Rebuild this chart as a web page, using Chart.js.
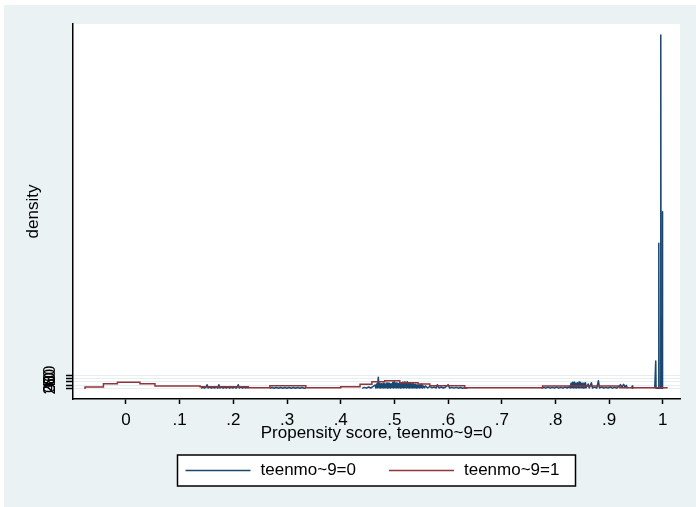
<!DOCTYPE html>
<html>
<head>
<meta charset="utf-8">
<script src="https://cdn.jsdelivr.net/npm/chart.js@4.4.1/dist/chart.umd.min.js"></script>
<style>
  body { margin: 0; background: #fff; }
  canvas { display: block; }
</style>
</head>
<body>
<canvas id="psChart" width="696" height="507"></canvas>
<script>
// axis ticks
const xTicks = [0, 0.1, 0.2, 0.3, 0.4, 0.5, 0.6, 0.7, 0.8, 0.9, 1];
const xTickLabels = ["0", ".1", ".2", ".3", ".4", ".5", ".6", ".7", ".8", ".9", "1"];
const yTicks = [0, 20, 40, 60, 80];
const yTickLabels = ["0", "20", "40", "60", "80"];

const seriesLabels = ["teenmo~9=0", "teenmo~9=1"];

// teenmo~9=0 in pieces ([score, density])
const blueA = [[.140,0],[.143,7],[.146,1],[.149,6],[.151,22],[.153,2],[.156,7],[.159,1],[.162,6],[.165,2],[.168,7],[.171,1],[.173,22],[.175,2],[.178,7],[.181,1],[.184,6],[.187,2],[.190,7],[.193,1],[.196,6],[.199,2],[.202,7],[.205,1],[.207,6],[.209,22],[.211,2],[.214,7],[.217,1],[.220,6],[.223,2],[.226,7],[.228,0]];
const blueB = [[.268,0],[.272,5],[.276,1],[.280,5],[.284,1],[.288,5],[.292,1],[.296,5],[.300,1],[.304,5],[.308,1],[.312,5],[.316,1],[.320,5],[.324,1],[.328,5],[.332,1],[.335,0]];
const blueC = [[.440,0],[.444,6],[.448,1],[.452,8],[.456,2],[.460,10],
  [.464,20],[.4655,2],[.467,26],[.4685,3],[.470,66],[.4715,3],[.473,30],[.4745,2],[.476,28],[.4775,3],[.479,30],[.4805,2],[.482,26],[.4835,3],
  [.485,32],[.4865,2],[.488,34],[.4895,3],[.491,30],[.4925,2],[.494,28],[.4955,3],[.497,36],[.4985,2],[.500,40],[.5015,3],[.503,32],[.5045,2],
  [.506,30],[.5075,3],[.509,32],[.5105,2],[.512,34],[.5135,3],[.515,36],[.5165,2],[.518,38],[.5195,3],[.521,36],[.5225,2],[.524,40],[.5255,3],
  [.527,32],[.5285,2],[.530,30],[.5315,3],[.533,28],[.5345,2],[.536,26],[.5375,3],[.539,24],[.5405,2],[.542,22],[.5435,3],[.545,20],[.5465,2],
  [.548,22],[.5495,3],[.551,26],[.5525,2],[.554,14],[.556,3],
  [.558,14],[.562,2],[.566,12],[.570,3],[.574,8],[.578,2],[.580,22],[.583,2],[.587,8],[.591,2],[.595,6],[.600,22],[.603,1],[.607,6],[.611,1],
  [.615,6],[.619,1],[.623,5],[.627,1],[.631,4],[.636,0]];
const blueD = [[.774,0],[.778,6],[.782,1],[.786,7],[.790,1],[.794,6],[.798,1],[.802,7],[.806,1],[.810,6],[.814,1],[.818,7],[.822,2],
  [.826,10],[.8275,2],[.829,30],[.8305,3],[.832,36],[.8335,2],[.835,38],[.8365,3],[.838,32],[.8395,2],[.841,34],[.8425,3],[.844,38],[.8455,2],
  [.847,34],[.8485,3],[.850,30],[.8515,2],[.853,32],[.8545,3],[.856,34],[.857,3],
  [.861,26],[.863,2],[.867,34],[.869,2],[.873,7],[.877,1],[.880,46],[.882,2],[.886,7],[.890,1],[.894,6],[.898,1],[.902,7],[.906,1],[.910,6],
  [.914,1],[.918,10],[.921,22],[.924,8],[.927,24],[.930,6],[.932,18],[.934,0]];
const blueE = [[.942,0],[.943,14],[.944,0]];
const blueSpikes = [[.985,0],[.9868,164],[.9874,0],[.9915,0],[.9925,870],[.9931,0],[.9955,0],[.9962,2120],[.9968,0],[.9985,0],[.9992,1060],[.9998,0],[1.0005,0]];

// teenmo~9=1, step levels (each level starts at redX)
const redX = [-0.078, -0.076, -0.042, -0.016, 0.026, 0.054, 0.138, 0.228, 0.268, 0.335, 0.40, 0.436, 0.458, 0.482, 0.51, 0.544, 0.566, 0.631, 0.776, 0.92, 1.009];
const redY = [2, 8, 28, 36, 28, 14, 10, 4, 16, 4, 10, 24, 40, 46, 34, 26, 16, 4, 14, 4, 4];

const navy = "#1a476f";
const maroon = "#90353b";
const fontFam = "'Liberation Sans', Arial, sans-serif";

// pieces joined with a null so the line breaks between them
let bluePoints = [];
[blueA, blueB, blueC, blueD, blueE, blueSpikes].forEach(function (part, i) {
  if (i > 0) bluePoints.push({ x: part[0][0] - 0.001, y: null });
  part.forEach(function (p) { bluePoints.push({ x: p[0], y: p[1] }); });
});
const redPoints = redX.map(function (x, i) { return { x: x, y: redY[i] }; });

const backdrop = {
  id: "backdrop",
  beforeDraw(chart) {
    const ctx = chart.ctx;
    const a = chart.chartArea;
    ctx.save();
    ctx.fillStyle = "#ffffff";
    ctx.fillRect(0, 0, chart.width, chart.height);
    ctx.fillStyle = "#eaf2f3";
    ctx.fillRect(4, 5, chart.width - 4, chart.height - 5);
    ctx.fillStyle = "#ffffff";
    ctx.fillRect(a.left, a.top, a.right - a.left, a.bottom - a.top);
    ctx.restore();
  },
};

// Stata style boxed legend under the axis title
const boxLegend = {
  id: "boxLegend",
  afterDraw(chart) {
    const ctx = chart.ctx;
    const a = chart.chartArea;
    const cx = (a.left + a.right) / 2;
    const left = cx - 199, top = 455, w = 398, h = 31;
    ctx.save();
    ctx.fillStyle = "#ffffff";
    ctx.fillRect(left, top, w, h);
    ctx.strokeStyle = "#000000";
    ctx.lineWidth = 1.5;
    ctx.strokeRect(left, top, w, h);
    ctx.font = "17px " + fontFam;
    ctx.textBaseline = "middle";
    ctx.fillStyle = "#000000";
    let x = left + 8;
    chart.data.datasets.forEach(function (ds) {
      ctx.strokeStyle = ds.borderColor;
      ctx.beginPath();
      ctx.moveTo(x, top + h / 2);
      ctx.lineTo(x + 65, top + h / 2);
      ctx.stroke();
      ctx.fillText(ds.label, x + 75, top + h / 2);
      x += 75 + ctx.measureText(ds.label).width + 33;
    });
    ctx.restore();
  },
};

new Chart(document.getElementById("psChart"), {
  type: "line",
  data: {
    datasets: [
      {
        label: seriesLabels[0],
        data: bluePoints,
        borderColor: navy,
        backgroundColor: navy,
        borderWidth: 1.5,
        borderJoinStyle: "round",
        pointRadius: 0,
        tension: 0,
        order: 2,
      },
      {
        label: seriesLabels[1],
        data: redPoints,
        borderColor: maroon,
        backgroundColor: maroon,
        borderWidth: 1.5,
        pointRadius: 0,
        stepped: "before",
        order: 1,
      },
    ],
  },
  options: {
    responsive: false,
    animation: false,
    devicePixelRatio: 1,
    layout: { padding: { left: 4, top: 24, right: 16, bottom: 63 } },
    plugins: {
      legend: { display: false },
      tooltip: { enabled: false },
    },
    scales: {
      x: {
        type: "linear",
        min: -0.0987,
        max: 1.032,
        afterBuildTicks: function (scale) {
          scale.ticks = xTicks.map(function (v) { return { value: v }; });
        },
        afterFit: function (scale) { scale.height = 45; },
        ticks: {
          autoSkip: false,
          maxRotation: 0,
          padding: 6,
          color: "#000",
          font: { family: fontFam, size: 17 },
          callback: function (v) { return xTickLabels[xTicks.indexOf(v)]; },
        },
        grid: { drawOnChartArea: false, tickLength: 5, tickColor: "#000", tickWidth: 1.5 },
        border: { color: "#000", width: 1.5 },
        title: {
          display: true,
          text: "Propensity score, teenmo~9=0",
          color: "#000",
          font: { family: fontFam, size: 17 },
          padding: { top: 0, bottom: 0 },
        },
      },
      y: {
        type: "linear",
        min: -64,
        max: 2186,
        afterBuildTicks: function (scale) {
          scale.ticks = yTicks.map(function (v) { return { value: v }; });
        },
        afterFit: function (scale) { scale.width = 69; },
        ticks: {
          autoSkip: false,
          minRotation: 90,
          maxRotation: 90,
          crossAlign: "center",
          padding: 6.5,
          color: "#000",
          font: { family: fontFam, size: 17 },
          callback: function (v) { return yTickLabels[yTicks.indexOf(v)]; },
        },
        grid: { color: "#e6eef0", lineWidth: 1, tickLength: 7, tickColor: "#000", tickWidth: 1.5 },
        border: { color: "#000", width: 1.5 },
        title: {
          display: true,
          text: "density",
          color: "#000",
          font: { family: fontFam, size: 17 },
          padding: { top: 19, bottom: 0 },
        },
      },
    },
  },
  plugins: [backdrop, boxLegend],
});
</script>
</body>
</html>
